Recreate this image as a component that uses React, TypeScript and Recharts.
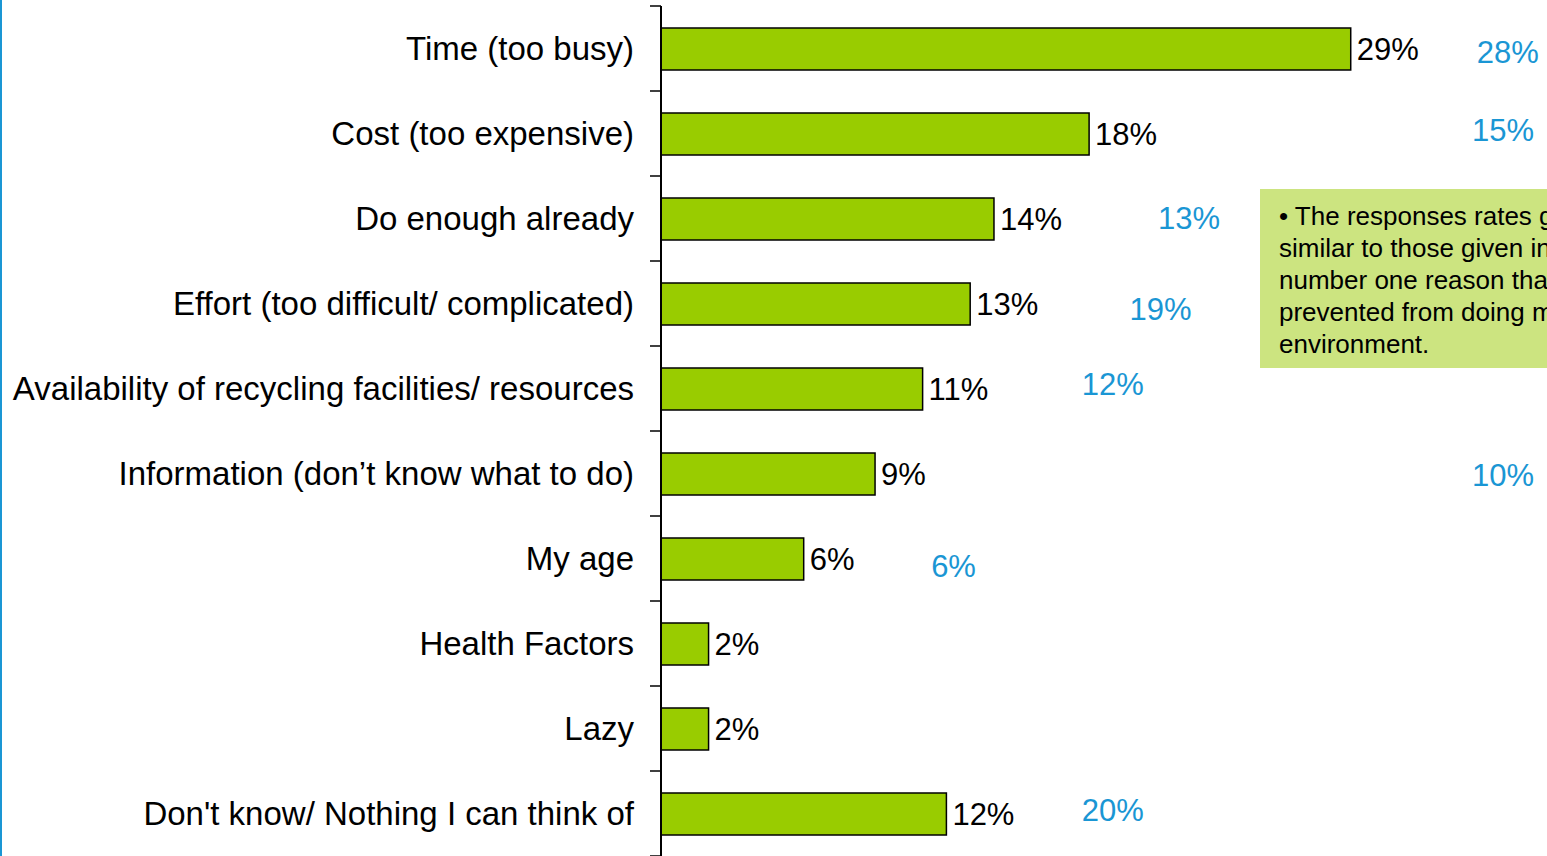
import { Bar, ComposedChart, LabelList, Scatter, XAxis, YAxis } from "recharts";

const categories = [
  "Time (too busy)",
  "Cost (too expensive)",
  "Do enough already",
  "Effort (too difficult/ complicated)",
  "Availability of recycling facilities/ resources",
  "Information (don\u2019t know what to do)",
  "My age",
  "Health Factors",
  "Lazy",
  "Don't know/ Nothing I can think of",
];
const values = [29, 18, 14, 13, 11, 9, 6, 2, 2, 12];
// blue figures from the earlier survey (none for two rows)
const previousValues = [28, 15, 13, 19, 12, 10, 6, null, null, 20];
// where those blue figures sit, in x-axis units, and a small vertical nudge in px
const previousLabelX = [35.6, 35.4, 22.2, 21.0, 19.0, 35.4, 12.3, null, null, 19.0];
const previousLabelDy = [4, -3, 0, 6, -4, 2, 8, 0, 0, -3];

const noteLines = [
  "\u2022 The responses rates given are broadly",
  "similar to those given in 2008 with the",
  "number one reason that people are",
  "prevented from doing more for the",
  "environment.",
];

const FONT = "'Liberation Sans', Arial, Helvetica, sans-serif";
const GREEN = "#99CC00";
const BLUE = "#1A96D4";
const TICK_MARGIN = 27;

const chartData = categories.map((name, i) => ({
  name,
  value: values[i],
  prev: previousValues[i],
  prevX: previousLabelX[i],
  dy: previousLabelDy[i],
}));

function PreviousLabel(props: any) {
  const { cx, cy, payload } = props;
  if (!payload || payload.prev == null || !Number.isFinite(cx) || !Number.isFinite(cy)) return null;
  return (
    <text
      x={cx}
      y={cy + payload.dy}
      textAnchor="middle"
      dominantBaseline="central"
      fill={BLUE}
      fontSize={31}
      fontFamily={FONT}
    >
      {`${payload.prev}%`}
    </text>
  );
}

// category label plus the small tick marks that sit on the band boundaries
function CategoryTick(props: any) {
  const { x, y, payload, index, visibleTicksCount } = props;
  const half = payload?.offset ?? 0;
  const axisX = x + TICK_MARGIN;
  const isLast = index === visibleTicksCount - 1;
  return (
    <g>
      <line x1={axisX - 11} x2={axisX} y1={y - half} y2={y - half} stroke="#000" strokeWidth={1.5} />
      {isLast && (
        <line x1={axisX - 11} x2={axisX} y1={y + half} y2={y + half} stroke="#000" strokeWidth={1.5} />
      )}
      <text
        x={x}
        y={y}
        textAnchor="end"
        dominantBaseline="central"
        fill="#000"
        fontSize={33}
        fontFamily={FONT}
      >
        {payload.value}
      </text>
    </g>
  );
}

export default function App() {
  return (
    <div
      style={{
        position: "relative",
        width: 1547,
        height: 856,
        overflow: "hidden",
        background: "#fff",
        fontFamily: FONT,
      }}
    >
      <style>{`body { margin: 0; overflow: hidden; }`}</style>
      <div
        style={{ position: "absolute", left: 0, top: 0, width: 2, height: 856, background: BLUE }}
      />
      <ComposedChart
        layout="vertical"
        width={1547}
        height={856}
        data={chartData}
        margin={{ top: 6, right: 6, bottom: 0, left: 0 }}
      >
        <XAxis type="number" domain={[0, 37]} hide />
        <YAxis
          type="category"
          dataKey="name"
          width={661}
          axisLine={{ stroke: "#000", strokeWidth: 2 }}
          tickLine={false}
          tickSize={0}
          tickMargin={TICK_MARGIN}
          interval={0}
          tick={<CategoryTick />}
        />
        <Bar
          dataKey="value"
          fill={GREEN}
          stroke="#000"
          strokeWidth={1.5}
          barSize={42}
          isAnimationActive={false}
        >
          <LabelList
            dataKey="value"
            position="right"
            offset={6}
            formatter={(v: any) => `${v}%`}
            style={{ fill: "#000", fontSize: 31, fontFamily: FONT }}
          />
        </Bar>
        <Scatter dataKey="prevX" shape={PreviousLabel} isAnimationActive={false} />
      </ComposedChart>
      <div
        style={{
          position: "absolute",
          left: 1260,
          top: 189,
          width: 480,
          height: 179,
          boxSizing: "border-box",
          padding: "11px 0 0 19px",
          background: "#CCE480",
          color: "#000",
          fontSize: 26,
          lineHeight: "32px",
          whiteSpace: "nowrap",
        }}
      >
        {noteLines.map((line) => (
          <div key={line}>{line}</div>
        ))}
      </div>
    </div>
  );
}
